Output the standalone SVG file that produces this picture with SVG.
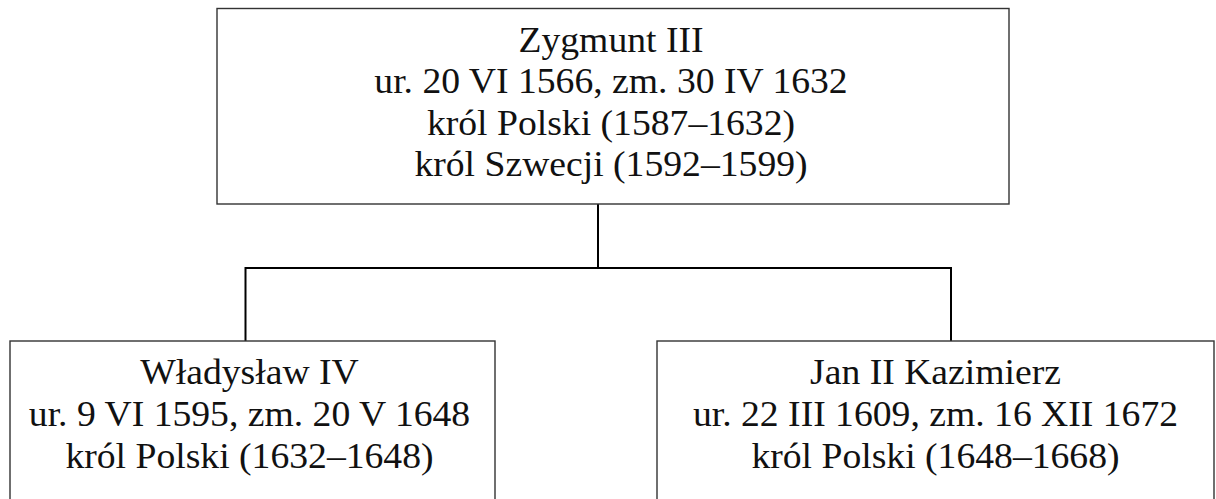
<svg xmlns="http://www.w3.org/2000/svg" width="1216" height="499" viewBox="0 0 1216 499">
<style>
.box{fill:#fff;stroke:#333;stroke-width:1.4}
.con{fill:none;stroke:#000;stroke-width:2}
text{font-family:"Liberation Serif","Times New Roman",serif;font-size:35px;fill:#111;text-anchor:middle}
</style>
<rect width="1216" height="499" fill="#fff"/>
<g id="connectors">
<path class="con" d="M598 204V268M245.5 268H951M245.5 267V341M951 267V341"/>
</g>
<g id="zygmunt">
<rect class="box" x="217" y="8.5" width="792" height="195.5"/>
<g transform="translate(611 0) scale(1.076 1)">
<text x="0" y="52">Zygmunt III</text>
<text x="0" y="93.5">ur. 20 VI 1566, zm. 30 IV 1632</text>
<text x="0" y="135">król Polski (1587–1632)</text>
<text x="0" y="176.5">król Szwecji (1592–1599)</text>
</g>
</g>
<g id="wladyslaw">
<rect class="box" x="10" y="341" width="485" height="200"/>
<g transform="translate(249.5 0) scale(1.076 1)">
<text x="0" y="384">Władysław IV</text>
<text x="0" y="426">ur. 9 VI 1595, zm. 20 V 1648</text>
<text x="0" y="468">król Polski (1632–1648)</text>
</g>
</g>
<g id="jan">
<rect class="box" x="657" y="341" width="557" height="200"/>
<g transform="translate(935.5 0) scale(1.076 1)">
<text x="0" y="384">Jan II Kazimierz</text>
<text x="0" y="426">ur. 22 III 1609, zm. 16 XII 1672</text>
<text x="0" y="468">król Polski (1648–1668)</text>
</g>
</g>
</svg>
